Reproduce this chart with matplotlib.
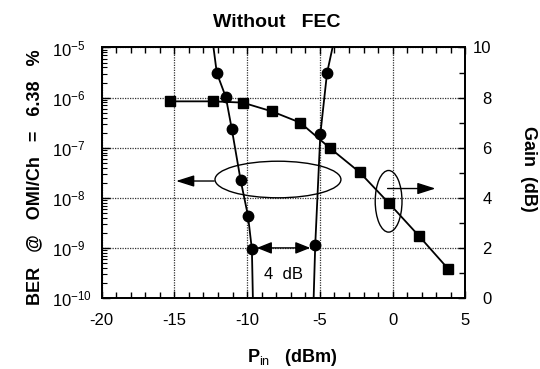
import matplotlib
matplotlib.use("Agg")
import matplotlib.pyplot as plt
from matplotlib.patches import Ellipse
from matplotlib.ticker import MultipleLocator, LogLocator, NullFormatter

plt.rcParams['font.family'] = ['Liberation Sans', 'DejaVu Sans']
plt.rcParams['mathtext.fontset'] = 'custom'
plt.rcParams['mathtext.rm'] = 'Liberation Sans'
plt.rcParams['mathtext.it'] = 'Liberation Sans'
plt.rcParams['mathtext.bf'] = 'Liberation Sans:bold'
plt.rcParams['axes.unicode_minus'] = False

# ---------------- data ----------------
# Gain curve (squares), right axis
gain_pin = [-15.3, -12.35, -10.3, -8.3, -6.35, -4.3, -2.27, -0.25, 1.8, 3.8]
gain_db = [7.85, 7.85, 7.8, 7.45, 7.0, 5.98, 5.02, 3.78, 2.48, 1.17]

# BER curve, low-power branch (first/last points lie outside the plotted range)
ber_left_pin = [-12.40, -12.08, -11.46, -11.05, -10.45, -9.94, -9.67, -9.59]
ber_left_val = [1.6e-5, 3.09e-6, 1.02e-6, 2.34e-7, 2.29e-8, 4.37e-9, 9.3e-10, 6.3e-11]

# BER curve, high-power branch (first/last points lie outside the plotted range)
ber_right_pin = [-3.98, -4.51, -4.97, -5.32, -5.45]
ber_right_val = [1.6e-5, 3.09e-6, 1.86e-7, 1.15e-9, 6.3e-11]

x_ticks = [-20, -15, -10, -5, 0, 5]
x_ticklabels = ['-20', '-15', '-10', '-5', '0', '5']
ber_ticks = [1e-10, 1e-9, 1e-8, 1e-7, 1e-6, 1e-5]
ber_ticklabels = [r'$\mathdefault{10^{-10}}$', r'$\mathdefault{10^{-9}}$', r'$\mathdefault{10^{-8}}$',
                  r'$\mathdefault{10^{-7}}$', r'$\mathdefault{10^{-6}}$', r'$\mathdefault{10^{-5}}$']
gain_ticks = [0, 2, 4, 6, 8, 10]
gain_ticklabels = ['0', '2', '4', '6', '8', '10']

# ---------------- figure ----------------
fig = plt.figure(figsize=(5.4, 3.69), dpi=100)
ax = fig.add_axes([0.188, 0.1924, 0.674, 0.6789])
ax2 = ax.twinx()

ax.set_xlim(-20, 5)
ax.set_yscale('log')
ax.set_ylim(1e-10, 1e-5)
ax2.set_ylim(0, 10)

ax.grid(True, which='major', linestyle=(0, (1, 1)), color='#333333', linewidth=0.9)

# BER curves
for px, bv in ((ber_left_pin, ber_left_val), (ber_right_pin, ber_right_val)):
    ax.plot(px, bv, color='black', lw=1.3, marker='o', markersize=7.5,
            markevery=slice(1, len(px) - 1))

# Gain curve
ax2.plot(gain_pin, gain_db, color='black', lw=1.3, marker='s', markersize=7.5)

# ticks
ax.set_xticks(x_ticks)
ax.set_xticklabels(x_ticklabels)
ax.xaxis.set_minor_locator(MultipleLocator(1))
ax.set_yticks(ber_ticks)
ax.set_yticklabels(ber_ticklabels)
ax.yaxis.set_minor_locator(LogLocator(base=10, subs=range(2, 10)))
ax.yaxis.set_minor_formatter(NullFormatter())
ax.tick_params(axis='x', which='both', direction='in', top=True, bottom=True,
               labelsize=12, pad=10.5)
ax.tick_params(axis='x', which='major', length=5, width=1)
ax.tick_params(axis='x', which='minor', length=4, width=1)
ax.tick_params(axis='y', which='both', direction='in', left=True, right=False,
               labelsize=12, pad=35.6)
ax.tick_params(axis='y', which='major', length=6, width=1)
ax.tick_params(axis='y', which='minor', length=3.5, width=0.8)
for t in ax.get_yticklabels():
    t.set_horizontalalignment('left')

ax2.set_yticks(gain_ticks)
ax2.set_yticklabels(gain_ticklabels)
ax2.yaxis.set_minor_locator(MultipleLocator(1))
ax2.tick_params(axis='y', which='both', direction='in', right=True, left=False,
                labelsize=12, pad=18.7)
ax2.tick_params(axis='y', which='major', length=5, width=1)
ax2.tick_params(axis='y', which='minor', length=4, width=1)
for t in ax2.get_yticklabels():
    t.set_horizontalalignment('right')

for a in (ax, ax2):
    for s in a.spines.values():
        s.set_linewidth(1.3)

# annotations
ax2.add_patch(Ellipse((-7.88, 4.73), width=8.65, height=1.46, fill=False, lw=1.0, color='black'))
ax2.add_patch(Ellipse((-0.28, 3.86), width=1.84, height=2.46, fill=False, lw=1.0, color='black'))
ax2.annotate('', xy=(-14.88, 4.67), xytext=(-12.26, 4.67),
             arrowprops=dict(arrowstyle='-|>,head_length=1.1,head_width=0.35',
                             color='black', lw=1.0, shrinkA=0, shrinkB=0, mutation_scale=10))
ax2.annotate('', xy=(2.94, 4.37), xytext=(-0.35, 4.37),
             arrowprops=dict(arrowstyle='-|>,head_length=1.1,head_width=0.35',
                             color='black', lw=1.0, shrinkA=0, shrinkB=0, mutation_scale=10))
ax.annotate('', xy=(-9.33, 1e-9), xytext=(-5.66, 1e-9),
            arrowprops=dict(arrowstyle='<|-|>,head_length=0.9,head_width=0.36',
                            color='black', lw=1.0, shrinkA=0, shrinkB=0, mutation_scale=10))
ax.text(-7.5, 10 ** -9.54, '4  dB', fontsize=12, ha='center', va='center')

# labels
fig.text(0.513, 0.940, 'Without   FEC', fontsize=14, fontweight='bold', ha='center', va='center')
fig.text(0.0648, 0.520, 'BER   @   OMI/Ch   =   6.38   %', fontsize=13, fontweight='bold',
         rotation=90, ha='center', va='center')
fig.text(0.978, 0.542, 'Gain  (dB)', fontsize=13, fontweight='bold',
         rotation=-90, ha='center', va='center')
fig.text(0.542, 0.0198, r'P$_{\mathrm{in}}$   (dBm)', fontsize=13, fontweight='bold',
         ha='center', va='baseline')

fig.savefig('out.png', dpi=100)
